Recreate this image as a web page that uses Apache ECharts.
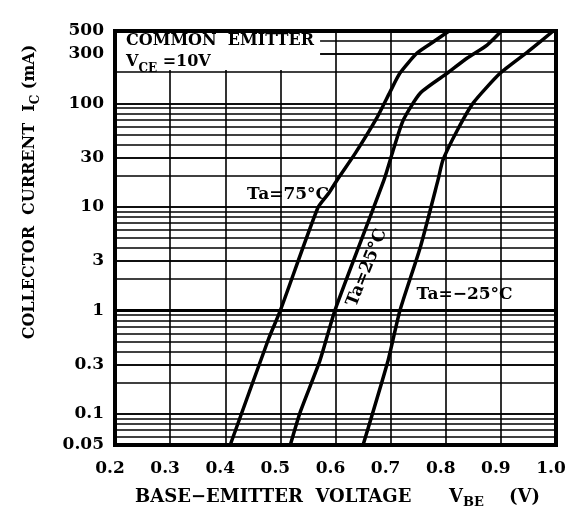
<!DOCTYPE html>
<html><head><meta charset="utf-8">
<script src="https://cdn.jsdelivr.net/npm/echarts@6/dist/echarts.min.js"></script>
<style>html,body{margin:0;padding:0;background:#fff}#c{width:570px;height:530px}</style>
</head><body><div id="c"></div>
<script>
// ---- data ----
const tickValues = [500, 300, 100, 30, 10, 3, 1, 0.3, 0.1, 0.05];
const tickLabels = ['500', '300', '100', '30', '10', '3', '1', '0.3', '0.1', '0.05'];
const gridValues = [0.06, 0.07, 0.08, 0.09, 0.1, 0.2, 0.3, 0.4, 0.5, 0.6, 0.7, 0.8, 0.9,
  1, 2, 3, 4, 5, 6, 7, 8, 9, 10, 20, 30, 40, 50, 60, 70, 80, 90, 100, 200, 300, 400];

const vbe75 = [0.409, 0.478, 0.500, 0.568, 0.588, 0.603, 0.636, 0.676, 0.699, 0.717, 0.748, 0.777, 0.806];
const ic75  = [0.05, 0.52, 1.0, 9.8, 13.6, 18.2, 33, 74, 129, 196, 306, 391, 500];
const vbe25 = [0.518, 0.536, 0.572, 0.599, 0.688, 0.703, 0.723, 0.754, 0.803, 0.839, 0.875, 0.901];
const ic25  = [0.05, 0.104, 0.33, 1.0, 18.2, 33, 69, 126, 196, 274, 366, 500];
const vbeM25 = [0.650, 0.6955, 0.717, 0.754, 0.786, 0.795, 0.821, 0.850, 0.899, 0.948, 0.995];
const icM25  = [0.05, 0.33, 1.0, 4.1, 18.2, 28.4, 55, 101, 196, 313, 500];

const curveLabels = ['Ta=75°C', 'Ta=25°C', 'Ta=−25°C'];

// ---- chart ----
const F = 'DejaVu Serif';
const pair = (xs, ys) => xs.map((x, i) => [x, ys[i]]);
const txt = (size) => ({ fontFamily: F, fontWeight: 'bold', fontSize: size, color: '#000' });

const gridLineData = gridValues.map(v => {
  const d = { yAxis: v };
  if (v === 1) d.lineStyle = { width: 3 };
  return d;
});
tickValues.forEach((v, i) => {
  gridLineData.push({
    yAxis: v,
    label: Object.assign({ show: true, position: 'start', distance: 11, formatter: tickLabels[i] }, txt(17)),
    lineStyle: { width: v === 1 ? 3 : 1.6 }
  });
});

const curveStyle = { color: '#000', width: 3.5 };
function curveLabel(coord, text, rot) {
  return {
    symbol: 'circle', symbolSize: 0, silent: true, z: 12,
    label: Object.assign({ show: true, position: 'inside', rotate: rot || 0, formatter: text }, txt(17)),
    data: [{ coord: coord }]
  };
}

const chart = echarts.init(document.getElementById('c'), null, { renderer: 'canvas' });
chart.setOption({
  animation: false,
  backgroundColor: '#fff',
  grid: { left: 115, right: 14, top: 31, bottom: 85, show: true, borderColor: '#000', borderWidth: 4, backgroundColor: 'transparent', z: 20 },
  xAxis: {
    type: 'value', min: 0.2, max: 1.0, interval: 0.1,
    axisLine: { show: false }, axisTick: { show: false },
    splitLine: { show: true, lineStyle: { color: '#000', width: 1.6 } },
    axisLabel: Object.assign({ margin: 15, padding: [0, 10, 0, 0], formatter: v => v.toFixed(1) }, txt(17)),
    name: '{t|BASE−EMITTER  VOLTAGE}{t|      V}{s|BE}{t|    (V)}',
    nameLocation: 'middle', nameGap: 43,
    nameTextStyle: {
      padding: [0, 0, 0, 4],
      rich: {
        t: Object.assign({ lineHeight: 20, verticalAlign: 'top' }, txt(18)),
        s: Object.assign({ lineHeight: 12, verticalAlign: 'top', padding: [8, 0, 0, 0] }, txt(13))
      }
    }
  },
  yAxis: {
    type: 'log', logBase: 10, min: 0.05, max: 500,
    axisLine: { show: false }, axisTick: { show: false }, axisLabel: { show: false },
    splitLine: { show: false },
    name: '{t|COLLECTOR  CURRENT  I}{s|C}{t| (mA)}',
    nameLocation: 'middle', nameRotate: 90, nameGap: 73,
    nameTextStyle: {
      padding: [0, 0, 0, 92],
      rich: {
        t: Object.assign({ lineHeight: 20, verticalAlign: 'top' }, txt(16)),
        s: Object.assign({ lineHeight: 12, verticalAlign: 'top', padding: [8, 0, 0, 0] }, txt(12))
      }
    }
  },
  series: [
    {
      name: 'grid', type: 'line', data: [], silent: true,
      markLine: {
        z: 1, silent: true, symbol: ['none', 'none'], animation: false,
        label: { show: false },
        lineStyle: { color: '#000', width: 1.6, type: 'solid' },
        emphasis: { disabled: true },
        data: gridLineData
      },
      markArea: {
        z: 3, silent: true,
        itemStyle: { color: '#fff', borderWidth: 0, opacity: 1 },
        label: {
          show: true, position: 'insideTopLeft', distance: 0, offset: [11, 2],
          formatter: '{a|COMMON  EMITTER}\n{a|V}{s|CE}{a| =10V}',
          rich: {
            a: Object.assign({ lineHeight: 21, verticalAlign: 'top' }, txt(16)),
            s: Object.assign({ lineHeight: 12, verticalAlign: 'top', padding: [9, 0, 0, 0] }, txt(12))
          }
        },
        data: [[{ xAxis: 0.2, yAxis: 210 }, { xAxis: 0.572, yAxis: 500 }]]
      }
    },
    {
      name: curveLabels[0], type: 'line', z: 10, smooth: 0.2, showSymbol: false, lineStyle: curveStyle,
      data: pair(vbe75, ic75), markPoint: curveLabel([0.514, 13], curveLabels[0])
    },
    {
      name: curveLabels[1], type: 'line', z: 10, smooth: 0.2, showSymbol: false, lineStyle: curveStyle,
      data: pair(vbe25, ic25), markPoint: curveLabel([0.657, 2.57], curveLabels[1], 68)
    },
    {
      name: curveLabels[2], type: 'line', z: 10, smooth: 0.2, showSymbol: false, lineStyle: curveStyle,
      data: pair(vbeM25, icM25), markPoint: curveLabel([0.834, 1.41], curveLabels[2])
    }
  ]
});
</script></body></html>
